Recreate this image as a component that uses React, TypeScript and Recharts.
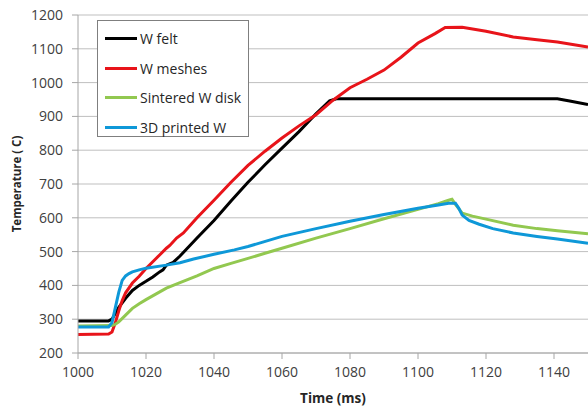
import { LineChart, Line, XAxis, YAxis, CartesianGrid, Legend } from "recharts";

const timeTicks = [1000, 1020, 1040, 1060, 1080, 1100, 1120, 1140];
const tempTicks = [200, 300, 400, 500, 600, 700, 800, 900, 1000, 1100, 1200];

const feltTimes = [1000, 1009, 1010, 1012, 1014, 1016, 1018, 1020, 1022, 1024, 1025, 1026, 1028, 1030, 1035, 1040, 1045, 1050, 1055, 1060, 1065, 1070, 1074, 1076, 1080, 1090, 1100, 1110, 1120, 1130, 1141, 1145, 1150];
const feltTemps = [295, 295, 300, 335, 362, 385, 400, 412, 425, 440, 446, 460, 468, 487, 540, 592, 650, 705, 757, 806, 855, 908, 946, 952, 952, 952, 952, 952, 952, 952, 952, 945, 935];

const meshTimes = [1000, 1009, 1010, 1011, 1012, 1013, 1014, 1016, 1018, 1020, 1022, 1024, 1026, 1027, 1029, 1031, 1035, 1040, 1045, 1050, 1055, 1060, 1065, 1070, 1075, 1080, 1085, 1090, 1095, 1100, 1105, 1108, 1113, 1120, 1128, 1135, 1141, 1150];
const meshTemps = [255, 256, 262, 290, 325, 355, 378, 407, 427, 450, 470, 490, 510, 518, 540, 555, 600, 652, 705, 755, 797, 836, 872, 905, 948, 985, 1010, 1037, 1075, 1117, 1145, 1163, 1164, 1152, 1135, 1127, 1120, 1105];

const diskTimes = [1000, 1010, 1011, 1012, 1014, 1016, 1018, 1020, 1023, 1026, 1030, 1035, 1040, 1045, 1050, 1055, 1060, 1070, 1080, 1090, 1100, 1106, 1109, 1110, 1111, 1113, 1116, 1120, 1128, 1135, 1141, 1150];
const diskTemps = [280, 281, 285, 292, 312, 332, 346, 358, 375, 392, 408, 428, 450, 465, 480, 495, 510, 540, 568, 597, 625, 642, 652, 655, 640, 614, 605, 596, 578, 568, 562, 553];

const printedTimes = [1000, 1009, 1010, 1011, 1012, 1013, 1014, 1015, 1016, 1018, 1020, 1026, 1030, 1034, 1040, 1046, 1050, 1060, 1070, 1080, 1090, 1100, 1106, 1109, 1111, 1112, 1113, 1115, 1118, 1122, 1128, 1135, 1141, 1150];
const printedTemps = [277, 277, 290, 335, 380, 415, 428, 435, 440, 446, 451, 460, 467, 478, 492, 505, 515, 545, 568, 590, 610, 628, 638, 643, 643, 628, 608, 592, 581, 568, 555, 545, 537, 525];

const series = [
  { name: "W felt", color: "#000000", times: feltTimes, temps: feltTemps },
  { name: "W meshes", color: "#e8141a", times: meshTimes, temps: meshTemps },
  { name: "Sintered W disk", color: "#92c850", times: diskTimes, temps: diskTemps },
  { name: "3D printed W", color: "#0e98d8", times: printedTimes, temps: printedTemps },
];

const font = "'Open Sans', sans-serif";
const textColor = "#404040";

function LegendBox() {
  return (
    <div
      style={{
        border: "1px solid #7f7f7f",
        background: "#fff",
        width: 152,
        height: 117,
        boxSizing: "border-box",
        paddingTop: 3,
        fontFamily: font,
        fontSize: 14,
        color: "#262626",
      }}
    >
      {series.map((s) => (
        <div key={s.name} style={{ display: "flex", alignItems: "center", height: 29.5 }}>
          <div style={{ width: 32, height: 3, marginLeft: 7, marginRight: 3, background: s.color }} />
          <span>{s.name}</span>
        </div>
      ))}
    </div>
  );
}

export default function App() {
  return (
    <div style={{ position: "absolute", left: 0, top: 0, width: 588, height: 412, background: "#fff" }}>
      <LineChart width={588} height={412} margin={{ top: 15, right: 0, bottom: 0, left: 0 }}>
        <CartesianGrid horizontal vertical={false} stroke="#bfbfbf" strokeWidth={1} />
        <XAxis
          type="number"
          dataKey="t"
          domain={[1000, 1150]}
          ticks={timeTicks}
          allowDataOverflow
          height={59}
          tickSize={6}
          tickMargin={8}
          stroke="#a6a6a6"
          tick={{ fill: textColor, fontSize: 14, fontFamily: font }}
          label={{
            value: "Time (ms)",
            position: "insideBottom",
            offset: 9,
            style: { fontFamily: font, fontSize: 13.5, fontWeight: 700, fill: "#262626" },
          }}
        />
        <YAxis
          type="number"
          domain={[200, 1200]}
          ticks={tempTicks}
          width={78}
          tickSize={6}
          tickMargin={9}
          stroke="#a6a6a6"
          tick={{ fill: textColor, fontSize: 14, fontFamily: font }}
          label={{
            value: "Temperature ( C)",
            angle: -90,
            position: "insideLeft",
            offset: 17,
            style: { textAnchor: "middle", fontFamily: font, fontSize: 11.5, fontWeight: 700, fill: "#262626" },
          }}
        />
        <Legend
          layout="vertical"
          align="center"
          verticalAlign="middle"
          wrapperStyle={{ left: 97, top: 20, width: 152, height: 117 }}
          content={() => <LegendBox />}
        />
        {series.map((s) => (
          <Line
            key={s.name}
            name={s.name}
            data={s.times.map((t, i) => ({ t, v: s.temps[i] }))}
            dataKey="v"
            type="linear"
            stroke={s.color}
            strokeWidth={3}
            dot={false}
            activeDot={false}
            isAnimationActive={false}
          />
        ))}
      </LineChart>
    </div>
  );
}
